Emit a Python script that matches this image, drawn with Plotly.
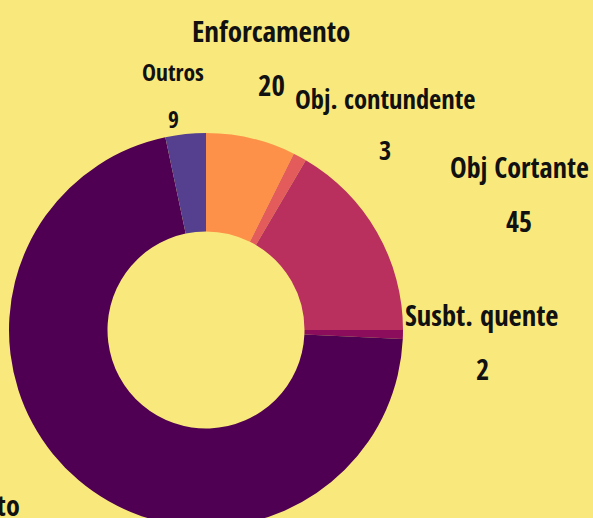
import plotly.graph_objects as go

# ---- data ----
categories = ["Enforcamento", "Obj. contundente", "Obj Cortante", "Susbt. quente", "Espancamento", "Outros"]
values = [20, 3, 45, 2, 193, 9]
colors = ["#FD9149", "#E35B5A", "#B92F5E", "#8B0D5B", "#4F0052", "#553F8F"]

# ---- layout / style (pixel positions of the text labels) ----
W, H = 593, 540
BG = "#F9E97C"
label_pos = [(271, 30), (385, 99), (519, 167), (481, 315), (22, 505), (173, 72)]
value_pos = [(271, 84), (385, 150), (519, 221), (482, 369), (-40, 559), (173, 119)]
label_anchor = ["center", "center", "center", "center", "right", "center"]
label_size = [29, 26.5, 28, 28.5, 28, 23.5]
FONT = "Open Sans Condensed"

cx, cy, r = 206, 330, 197

fig = go.Figure(go.Pie(
    labels=categories,
    values=values,
    sort=False,
    direction="clockwise",
    rotation=0,
    hole=0.5,
    marker=dict(colors=colors, line=dict(width=0)),
    textinfo="none",
    hoverinfo="label+value",
    domain=dict(x=[(cx - r) / W, (cx + r) / W], y=[1 - (cy + r) / H, 1 - (cy - r) / H]),
    showlegend=False,
))

anns = []
for cat, val, (px, py), (vx, vy), anc, sz in zip(categories, values, label_pos, value_pos, label_anchor, label_size):
    anns.append(dict(x=px / W, y=1 - py / H, xref="paper", yref="paper", text=f"<b>{cat}</b>",
                     showarrow=False, xanchor=anc, yanchor="middle",
                     font=dict(family=FONT, size=sz, color="#111111")))
    anns.append(dict(x=vx / W, y=1 - vy / H, xref="paper", yref="paper", text=f"<b>{val}</b>",
                     showarrow=False, xanchor="center", yanchor="middle",
                     font=dict(family=FONT, size=sz, color="#111111")))

fig.update_layout(
    width=W, height=H,
    margin=dict(l=0, r=0, t=0, b=0),
    paper_bgcolor=BG, plot_bgcolor=BG,
    annotations=anns,
)

fig.write_html("out.html", config={"displayModeBar": False},
               post_script="document.body.style.margin='0';document.body.style.overflow='hidden';document.documentElement.style.overflow='hidden';document.body.style.background='" + BG + "';")
